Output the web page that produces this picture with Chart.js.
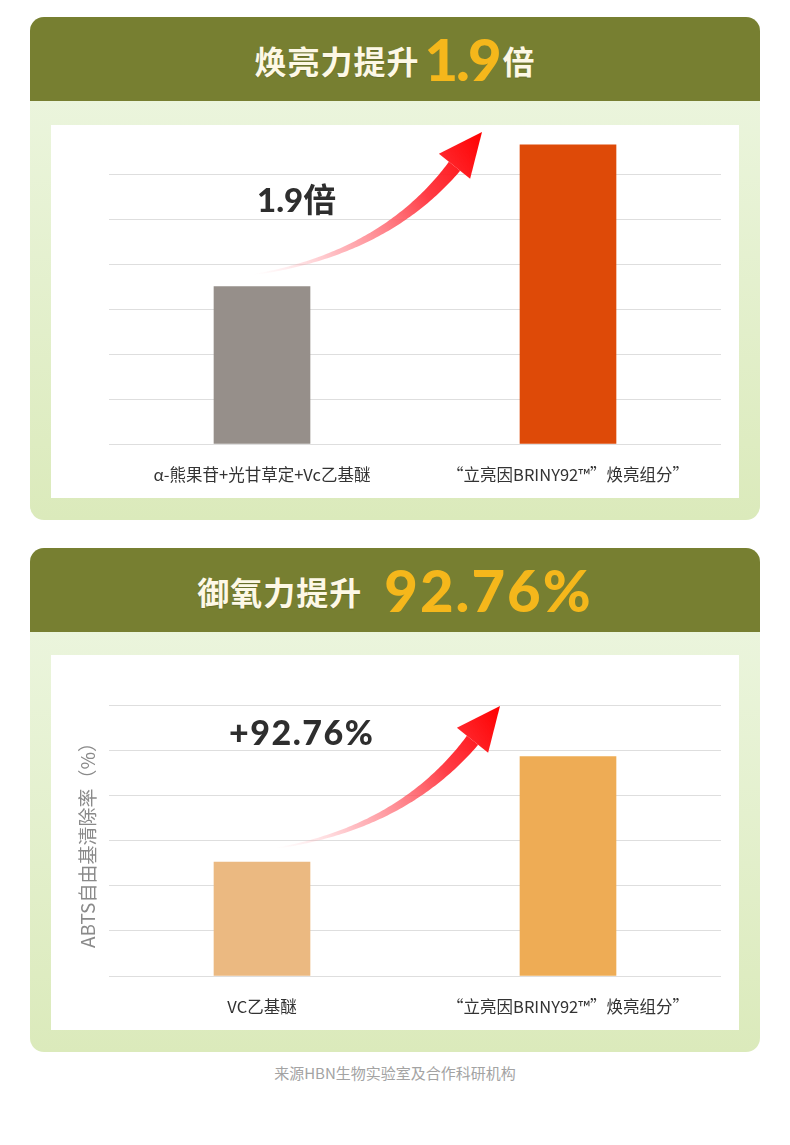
<!DOCTYPE html>
<html><head><meta charset="utf-8">
<script src="https://cdn.jsdelivr.net/npm/chart.js@4.4.1/dist/chart.umd.min.js"></script>
<style>
html,body{margin:0;padding:0;background:#fff;width:790px;height:1145px;overflow:hidden;font-family:"Noto Sans CJK SC",sans-serif;}
.panel{position:absolute;left:30px;width:730px;border-radius:14px;overflow:hidden;background:linear-gradient(#eef7e3,#dbeabb);}
.head{position:absolute;left:0;top:0;width:730px;height:84px;background:#777f31;display:flex;justify-content:center;align-items:center;}
.cn{font-family:"Noto Sans CJK SC",sans-serif;font-weight:700;font-size:32px;color:#fdf8e6;letter-spacing:1px;position:relative;top:1px;text-shadow:0 1px 1px rgba(0,0,0,0.15);}
.num{font-family:Lato,sans-serif;font-weight:900;font-size:58px;color:#f5b71b;line-height:1;}
.card{position:absolute;left:21px;width:688px;background:#fff;}
.anno{position:absolute;font-family:Lato,"Noto Sans CJK SC",sans-serif;font-weight:900;color:#2e2e2e;white-space:nowrap;line-height:1;}
.foot{position:absolute;left:0;width:790px;top:1062px;text-align:center;font-size:15px;color:#a3a3a3;}
</style></head>
<body>
<div class="panel" style="top:17px;height:503px;">
  <div class="head"><span class="cn">焕亮力提升</span><span class="num" style="margin:0 3px 0 5px;letter-spacing:-2px;">1.9</span><span class="cn">倍</span></div>
  <div class="card" style="top:108px;height:373px;">
    <canvas id="c1"></canvas>
    <div class="anno" style="left:206px;top:57px;font-size:33px;">1.9<span style="font-family:'Noto Sans CJK SC';font-weight:700;">倍</span></div>
  </div>
</div>
<div class="panel" style="top:548px;height:504px;">
  <div class="head"><span class="cn">御氧力提升</span><span class="num" style="margin-left:22px;letter-spacing:2px;">92.76%</span></div>
  <div class="card" style="top:107px;height:375px;">
    <canvas id="c2"></canvas>
    <div class="anno" style="left:178px;top:60px;font-size:34px;letter-spacing:1.5px;">+92.76%</div>
  </div>
</div>
<div class="foot">来源HBN生物实验室及合作科研机构</div>
<script>
const categories1 = ['α-熊果苷+光甘草定+Vc乙基醚', '“立亮因BRINY92™”焕亮组分”'];
const values1 = [3.5, 6.65];
const colors1 = ['#968f8a', '#de4a08'];

const categories2 = ['VC乙基醚', '“立亮因BRINY92™”焕亮组分”'];
const values2 = [2.52, 4.86];
const colors2 = ['#ebb981', '#eeac55'];
const yTitle2 = 'ABTS自由基清除率（%）';

const arrowPlugin = {
  id: 'curveArrow',
  afterDatasetsDraw(chart, args, opts) {
    const ctx = chart.ctx;
    const meta = chart.getDatasetMeta(0);
    const b0 = meta.data[0], b1 = meta.data[1];
    const P0 = {x: b0.x + opts.tailDx, y: b0.y + opts.tailDy};
    const tip = {x: b1.x + opts.tipDx, y: chart.chartArea.top + opts.tipDy};
    const hv = {x: 28, y: -35};
    const hl = Math.hypot(hv.x, hv.y);
    const u = {x: hv.x / hl, y: hv.y / hl};
    const n = {x: -u.y, y: u.x};
    const headLen = 44, headHalf = 20;
    const P2 = {x: tip.x - u.x * headLen, y: tip.y - u.y * headLen};
    const C = {x: P2.x - 2.5 * hv.x, y: P2.y - 2.5 * hv.y};
    const N = 80, L = [], R = [];
    for (let i = 0; i <= N; i++) {
      const t = i / N, mt = 1 - t;
      const px = mt*mt*P0.x + 2*t*mt*C.x + t*t*P2.x;
      const py = mt*mt*P0.y + 2*t*mt*C.y + t*t*P2.y;
      const dx = 2*mt*(C.x-P0.x) + 2*t*(P2.x-C.x);
      const dy = 2*mt*(C.y-P0.y) + 2*t*(P2.y-C.y);
      const dl = Math.hypot(dx, dy);
      const nx = -dy/dl, ny = dx/dl;
      const w = 0.6 + 6.6 * Math.pow(t, 1.2);
      L.push([px + nx*w, py + ny*w]);
      R.push([px - nx*w, py - ny*w]);
    }
    const g = ctx.createLinearGradient(P0.x, P0.y, tip.x, tip.y);
    g.addColorStop(0, 'rgba(255,190,196,0)');
    g.addColorStop(0.3, 'rgba(255,130,140,0.55)');
    g.addColorStop(0.7, 'rgba(255,40,50,0.9)');
    g.addColorStop(1, 'rgba(255,0,0,1)');
    ctx.save();
    ctx.fillStyle = g;
    ctx.beginPath();
    ctx.moveTo(L[0][0], L[0][1]);
    for (let i = 1; i < L.length; i++) ctx.lineTo(L[i][0], L[i][1]);
    for (let i = R.length - 1; i >= 0; i--) ctx.lineTo(R[i][0], R[i][1]);
    ctx.closePath();
    ctx.fill();
    ctx.beginPath();
    ctx.moveTo(tip.x, tip.y);
    ctx.lineTo(P2.x + n.x*headHalf, P2.y + n.y*headHalf);
    ctx.lineTo(P2.x - n.x*headHalf, P2.y - n.y*headHalf);
    ctx.closePath();
    ctx.fill();
    ctx.restore();
  }
};

function makeChart(id, cats, vals, cols, yMax, padTop, arrow, title) {
  const yScale = {
    min: 0, max: yMax,
    ticks: {display: false, stepSize: 1},
    grid: {color: c => (c.tick && c.tick.value > 6) ? 'rgba(0,0,0,0)' : '#dedede', drawTicks: false, lineWidth: 1},
    border: {display: false},
    afterFit(s) { s.width = 58; }
  };
  if (title) {
    yScale.title = {display: true, text: title, color: '#8a8a8a', font: {size: 19, family: '"Noto Sans CJK SC", sans-serif'}, padding: {top: 25, bottom: 0}};
  }
  return new Chart(document.getElementById(id), {
    type: 'bar',
    data: {labels: cats, datasets: [{data: vals, backgroundColor: cols, barThickness: 96, borderWidth: 0}]},
    options: {
      responsive: true, maintainAspectRatio: false, animation: false,
      layout: {padding: {top: padTop, right: 18, left: 0, bottom: 0}},
      plugins: {legend: {display: false}, tooltip: {enabled: false}, curveArrow: arrow},
      scales: {
        x: {
          grid: {display: false}, border: {display: false},
          ticks: {color: '#333', font: {size: 16.5, family: '"Noto Sans CJK SC", sans-serif'}, padding: 13, maxRotation: 0, autoSkip: false},
          afterFit(s) { s.height = 54; }
        },
        y: yScale
      }
    },
    plugins: [arrowPlugin]
  });
}

makeChart('c1', categories1, values1, colors1, 7, 4, {tailDx: -8, tailDy: -12, tipDx: -86, tipDy: 3}, null);
makeChart('c2', categories2, values2, colors2, 6, 50, {tailDx: 14, tailDy: -14, tipDx: -68, tipDy: 1}, yTitle2);
</script>
</body></html>
